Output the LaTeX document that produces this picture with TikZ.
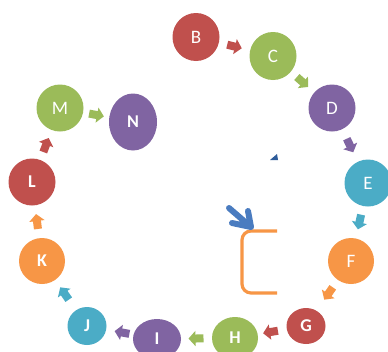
\documentclass[tikz,border=0pt]{standalone}
\usepackage{fontspec}
\setmainfont{Carlito}
\usetikzlibrary{arrows.meta,calc,shapes.geometric}
\definecolor{cred}{HTML}{C0504D}
\definecolor{cgreen}{HTML}{9BBB59}
\definecolor{cpurple}{HTML}{8064A2}
\definecolor{caqua}{HTML}{4BACC6}
\definecolor{corange}{HTML}{F79646}
\definecolor{cblue}{HTML}{4A7CC0}
\definecolor{cdark}{HTML}{2E5C9A}
\begin{document}
\begin{tikzpicture}[x=1pt,y=-1pt,
  ball/.style={ellipse,inner sep=0pt,text=white,font=\fontsize{19}{19}\selectfont},
  boldball/.style={ball,font=\fontsize{18}{18}\selectfont\bfseries},
  blockarr/.style={line width=8pt,-{Triangle[width=15pt,length=7pt]}}]
\path[use as bounding box] (0,0) rectangle (388,351);
\clip (0,0) rectangle (388,351);
\fill[white] (0,0) rectangle (388,351);

% cycle of letter bubbles
\node[ball,fill=cred,minimum width=47pt,minimum height=48pt] (B) at (196,37) {B};
\node[ball,fill=cgreen,minimum width=47pt,minimum height=48pt] (C) at (273,56) {C};
\node[ball,fill=cpurple,minimum width=47pt,minimum height=47pt] (D) at (332,108) {D};
\node[ball,fill=caqua,minimum width=47pt,minimum height=47pt] (E) at (368,183) {E};
\node[ball,fill=corange,minimum width=46pt,minimum height=46pt] (F) at (351,261) {F};
\node[boldball,fill=cred,minimum width=39pt,minimum height=36pt] (G) at (306,326) {G};
\node[boldball,fill=cgreen,minimum width=46pt,minimum height=42pt] (H) at (235,338) {H};
\node[boldball,fill=cpurple,minimum width=48pt,minimum height=40pt] (I) at (157,339) {I};
\node[boldball,fill=caqua,minimum width=39pt,minimum height=38pt] (J) at (87,326) {J};
\node[boldball,fill=corange,minimum width=46pt,minimum height=46pt] (K) at (42,261) {K};
\node[boldball,fill=cred,minimum width=47pt,minimum height=47pt] (L) at (32,182) {L};
\node[ball,fill=cgreen,minimum width=47pt,minimum height=47pt] (M) at (60,108) {M};
\node[boldball,fill=cpurple,minimum width=48pt,minimum height=57pt] (N) at (133,122) {N};

% block arrows half way between neighbours
\foreach \a/\b/\c in {B/C/cred,C/D/cgreen,D/E/cpurple,E/F/caqua,F/G/corange,
  G/H/cred,H/I/cgreen,I/J/cpurple,J/K/caqua,K/L/corange,L/M/cred,M/N/cgreen}{
  \coordinate (\a\b) at ($(\a)!0.5!(\b)$);
  \draw[blockarr,\c] ($(\a\b)!7.5pt!(\a)$) -- ($(\a\b)!7.5pt!(\b)$);
}

% open rounded bracket
\coordinate (brtop) at (277,231);
\coordinate (brbot) at (277,293);
\draw[corange,line width=3.2pt,rounded corners=9pt]
  (brtop) -- (242,231) -- (242,293) -- (brbot);

% thick blue pointer onto the bracket corner
\coordinate (ptail) at (229,208);
\coordinate (ptip) at (251,227);
\draw[cblue,line width=6pt,line cap=round,line join=round]
  (ptail) -- (ptip) (248,211) -- (ptip) -- (232,223);

% small dark wedge
\fill[cdark] (270,160) -- (278,160) -- (277,154) -- cycle;
\end{tikzpicture}
\end{document}
